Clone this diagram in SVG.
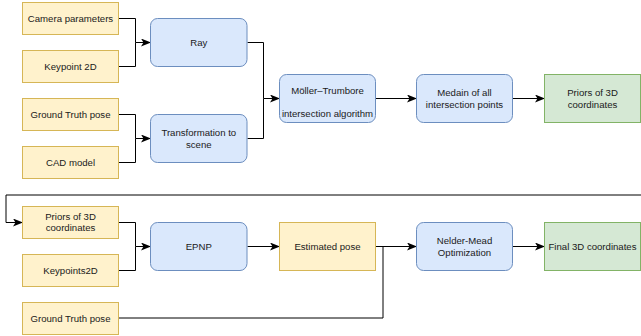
<svg xmlns="http://www.w3.org/2000/svg" width="641" height="336" viewBox="0 0 641 336">
  <style>
    .in { fill: #fff2cc; stroke: #d6b656; stroke-width: 1; }
    .op { fill: #dae8fc; stroke: #6c8ebf; stroke-width: 1; }
    .out { fill: #d5e8d4; stroke: #82b366; stroke-width: 1; }
    text { font-family: "Liberation Sans", Arial, sans-serif; font-size: 9.6px; fill: #1a1a1a; text-anchor: middle; }
    .edge { fill: none; stroke: #000; stroke-width: 1; }
  </style>
  <defs>
    <marker id="arrow" viewBox="0 0 10 8" refX="9" refY="4" markerWidth="10" markerHeight="8" markerUnits="userSpaceOnUse" orient="auto">
      <path d="M0,0 L10,4 L0,8 L2.5,4 Z" fill="#000"/>
    </marker>
  </defs>
  <rect width="641" height="336" fill="#fff"/>

  <!-- connectors -->
  <g id="connectors" class="edges">
    <path class="edge" d="M118.5,18.5 H135.5 V42.5 H150" marker-end="url(#arrow)"/>
    <path class="edge" d="M118.5,66.5 H135.5 V42.5"/>
    <path class="edge" d="M118.5,114.5 H135.5 V138.5 H150" marker-end="url(#arrow)"/>
    <path class="edge" d="M118.5,162.5 H135.5 V138.5"/>
    <path class="edge" d="M247.5,42.5 H263.5 V98.5 H279" marker-end="url(#arrow)"/>
    <path class="edge" d="M247.5,138.5 H263.5 V98.5"/>
    <path class="edge" d="M375.5,98.5 H416" marker-end="url(#arrow)"/>
    <path class="edge" d="M512.5,98.5 H544" marker-end="url(#arrow)"/>
    <path class="edge" d="M641,195 H6 V222.5 H22" marker-end="url(#arrow)"/>
    <path class="edge" d="M118.5,222.5 H135.5 V246.5 H150" marker-end="url(#arrow)"/>
    <path class="edge" d="M118.5,270.5 H135.5 V246.5"/>
    <path class="edge" d="M247.5,246.5 H279" marker-end="url(#arrow)"/>
    <path class="edge" d="M375.5,246.5 H416" marker-end="url(#arrow)"/>
    <path class="edge" d="M118.5,318 H383 V246.5"/>
    <path class="edge" d="M512.5,246.5 H544" marker-end="url(#arrow)"/>
  </g>

  <!-- first stage -->
  <g id="camera-parameters">
    <rect class="in" x="22.5" y="2.5" width="96" height="32"/>
    <text x="70.5" y="21.8">Camera parameters</text>
  </g>
  <g id="keypoint-2d">
    <rect class="in" x="22.5" y="50.5" width="96" height="32"/>
    <text x="70.5" y="69.8">Keypoint 2D</text>
  </g>
  <g id="ground-truth-pose">
    <rect class="in" x="22.5" y="98.5" width="96" height="32"/>
    <text x="70.5" y="117.8">Ground Truth pose</text>
  </g>
  <g id="cad-model">
    <rect class="in" x="22.5" y="146.5" width="96" height="32"/>
    <text x="70.5" y="165.8">CAD model</text>
  </g>
  <g id="ray">
    <rect class="op" x="150.5" y="18.5" width="96.5" height="48" rx="7"/>
    <text x="198.8" y="45.8">Ray</text>
  </g>
  <g id="transformation">
    <rect class="op" x="150.5" y="114.5" width="96.5" height="48" rx="7"/>
    <text x="198.8" y="136">Transformation to</text>
    <text x="198.8" y="147.5">scene</text>
  </g>
  <g id="moller-trumbore">
    <rect class="op" x="279.5" y="74.5" width="96" height="48" rx="7"/>
    <text x="327.5" y="93.5">Möller–Trumbore</text>
    <text x="327.5" y="116.6">intersection algorithm</text>
  </g>
  <g id="median">
    <rect class="op" x="416.5" y="74.5" width="96" height="48" rx="7"/>
    <text x="464.5" y="96">Medain of all</text>
    <text x="464.5" y="107.5">intersection points</text>
  </g>
  <g id="priors-out">
    <rect class="out" x="544.5" y="74.5" width="96" height="48"/>
    <text x="592.5" y="96">Priors of 3D</text>
    <text x="592.5" y="107.5">coordinates</text>
  </g>

  <!-- second stage -->
  <g id="priors-in">
    <rect class="in" x="22.5" y="206.5" width="96" height="32"/>
    <text x="70.5" y="219.6">Priors of 3D</text>
    <text x="70.5" y="231.1">coordinates</text>
  </g>
  <g id="keypoints2d">
    <rect class="in" x="22.5" y="254.5" width="96" height="32"/>
    <text x="70.5" y="273.8">Keypoints2D</text>
  </g>
  <g id="ground-truth-pose-2">
    <rect class="in" x="22.5" y="302.5" width="96" height="32"/>
    <text x="70.5" y="321.8">Ground Truth pose</text>
  </g>
  <g id="epnp">
    <rect class="op" x="150.5" y="222.5" width="96.5" height="48" rx="7"/>
    <text x="198.8" y="249.8">EPNP</text>
  </g>
  <g id="estimated-pose">
    <rect class="in" x="279.5" y="222.5" width="96" height="48"/>
    <text x="327.5" y="249.8">Estimated pose</text>
  </g>
  <g id="nelder-mead">
    <rect class="op" x="416.5" y="222.5" width="96" height="48" rx="7"/>
    <text x="464.5" y="244">Nelder-Mead</text>
    <text x="464.5" y="255.5">Optimization</text>
  </g>
  <g id="final-3d">
    <rect class="out" x="544.5" y="222.5" width="96" height="48"/>
    <text x="592.5" y="249.8">Final 3D coordinates</text>
  </g>
</svg>
